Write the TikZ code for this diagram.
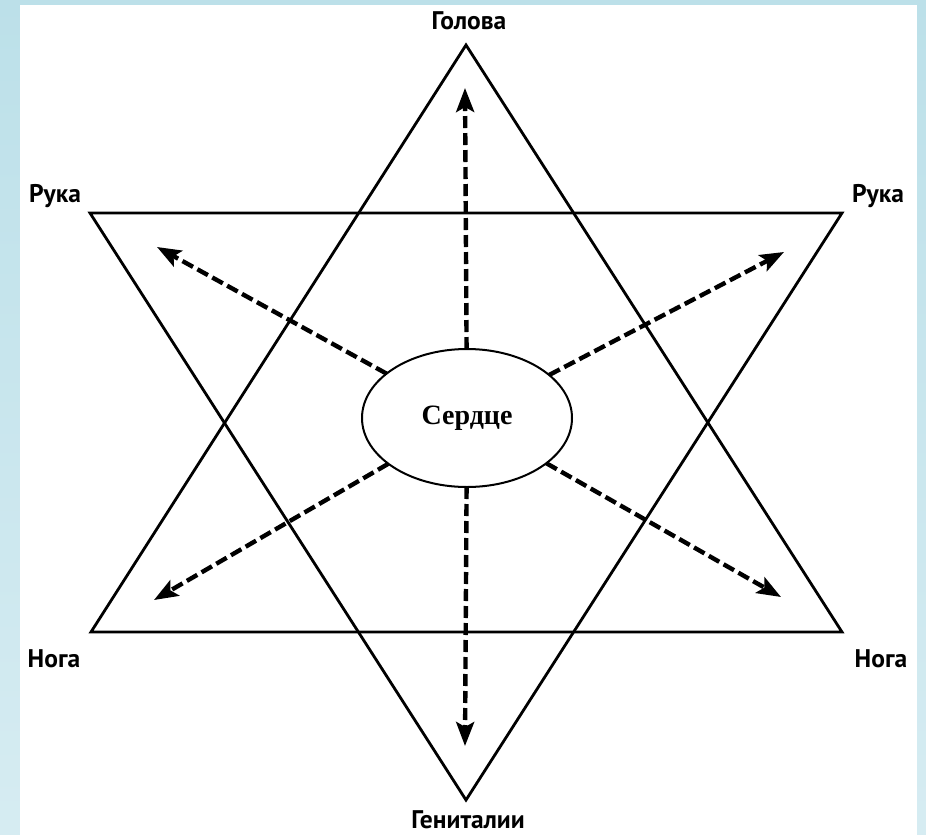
\documentclass[tikz,border=0pt]{standalone}
\usepackage{fontspec}
\setmainfont{PT Sans}
\newfontfamily\serifheart{Liberation Serif}
\usetikzlibrary{arrows.meta,shapes.geometric}
\definecolor{bgtop}{RGB}{188,224,233}
\definecolor{bgbot}{RGB}{214,236,242}
\tikzset{
  tri/.style={line width=2.8pt, line join=miter},
  lbl/.style={font=\bfseries\fontsize{25.5}{25.5}\selectfont, anchor=base, inner sep=0pt},
  arr/.style={line width=4.4pt, dash pattern=on 12pt off 5pt,
    -{Stealth[length=24pt,width=18pt,inset=5pt]}, shorten <=-1pt},
  heartnode/.style={ellipse, draw, line width=2pt, minimum width=210pt,
    minimum height=138pt, inner sep=0pt,
    font=\serifheart\bfseries\fontsize{28}{28}\selectfont}
}
\begin{document}
\begin{tikzpicture}[x=1pt,y=-1pt]
  \useasboundingbox (0,0) rectangle (926,835);
  \shade[top color=bgtop, bottom color=bgbot] (0,0) rectangle (926,835);
  \fill[white] (20,5) rectangle (917,835);
  % triangle vertices
  \coordinate (apexT) at (466,45);
  \coordinate (baseL) at (91,632);
  \coordinate (baseR) at (842,632);
  \coordinate (topL) at (90,213);
  \coordinate (topR) at (842,213);
  \coordinate (apexB) at (466,800);
  \draw[tri] (apexT) -- (baseR) -- (baseL) -- cycle;
  \draw[tri] (topL) -- (topR) -- (apexB) -- cycle;
  % heart
  \node[heartnode] (heart) at (467,418) {Сердце};
  % arrow tips
  \coordinate (tU) at (465,88);
  \coordinate (tD) at (465,746);
  \coordinate (tUL) at (157,247);
  \coordinate (tUR) at (784,252);
  \coordinate (tLL) at (154,600);
  \coordinate (tLR) at (781,597);
  \foreach \t in {tU,tD,tUL,tUR,tLL,tLR}
    \draw[arr] (heart) -- (\t);
  % labels
  \node[lbl] (lHead) at (469,29) {Голова};
  \node[lbl] (lArmL) at (55,202) {Рука};
  \node[lbl] (lArmR) at (878,202) {Рука};
  \node[lbl] (lLegL) at (54,667) {Нога};
  \node[lbl] (lLegR) at (881,667) {Нога};
  \node[lbl] (lGen) at (468,828) {Гениталии};
\end{tikzpicture}
\end{document}
